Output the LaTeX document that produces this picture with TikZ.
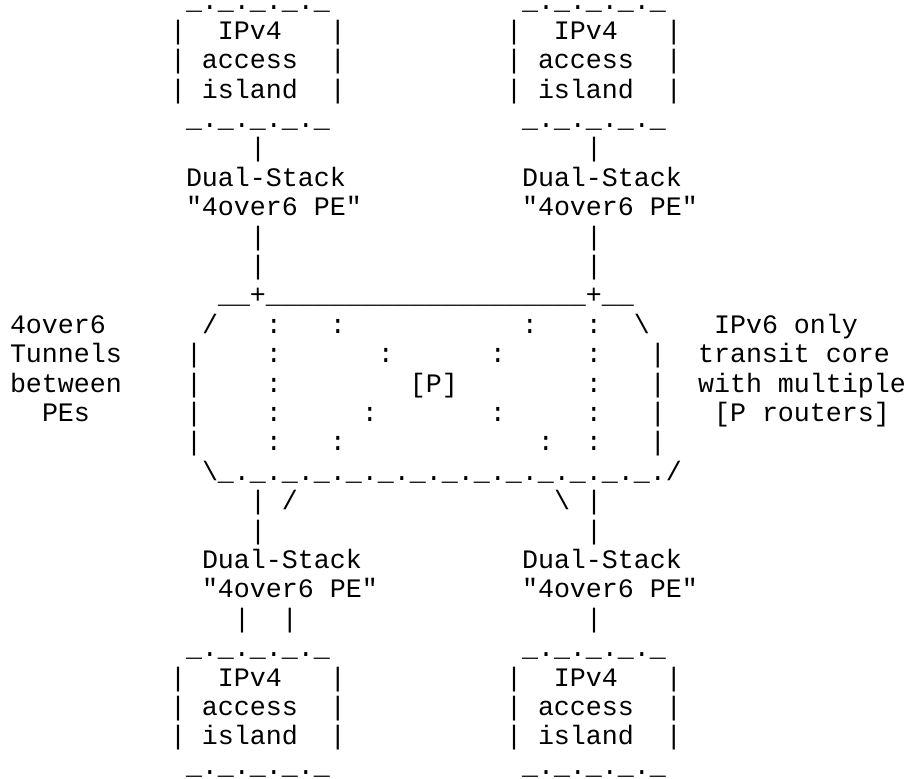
\documentclass[tikz,border=0pt]{standalone}
\usepackage{fontspec}
\setmonofont{Liberation Mono}
\frenchspacing

\begin{document}
\begin{tikzpicture}[
		x=16pt, y=-29.4pt,
		txt/.style={anchor=base west, inner sep=0pt, outer sep=0pt, font=\ttfamily\fontsize{26.66pt}{29.4pt}\selectfont}
	]
	\useasboundingbox (-10pt,9.9pt) rectangle (899pt,-768.1pt);

	% Upper IPv4 access islands
	\node[txt] (tlTop) at (11,0) {\_.\_.\_.\_.\_};
	\node[txt] (tlIPv4) at (10,1) {|~~IPv4~~~|};
	\node[txt] (tlAccess) at (10,2) {|~access~~|};
	\node[txt] (tlIsland) at (10,3) {|~island~~|};
	\node[txt] (tlBot) at (11,4) {\_.\_.\_.\_.\_};

	\node[txt] (trTop) at (32,0) {\_.\_.\_.\_.\_};
	\node[txt] (trIPv4) at (31,1) {|~~IPv4~~~|};
	\node[txt] (trAccess) at (31,2) {|~access~~|};
	\node[txt] (trIsland) at (31,3) {|~island~~|};
	\node[txt] (trBot) at (32,4) {\_.\_.\_.\_.\_};

	% Upper PEs
	\node[txt] (tlLinkA) at (15,5) {|};
	\node[txt] (trLinkA) at (36,5) {|};
	\node[txt] (tlPE) at (11,6) {Dual-Stack};
	\node[txt] (trPE) at (32,6) {Dual-Stack};
	\node[txt] (tlPEname) at (11,7) {"4over6 PE"};
	\node[txt] (trPEname) at (32,7) {"4over6 PE"};
	\node[txt] (tlLinkB) at (15,8) {|};
	\node[txt] (trLinkB) at (36,8) {|};
	\node[txt] (tlLinkC) at (15,9) {|};
	\node[txt] (trLinkC) at (36,9) {|};

	% IPv6 only core
	\node[txt] (coreTop) at (13,10) {\_\_+\_\_\_\_\_\_\_\_\_\_\_\_\_\_\_\_\_\_\_\_+\_\_};
	\node[txt] (coreA) at (12,11) {/~~~:~~~:~~~~~~~~~~~:~~~:~~\textbackslash};
	\node[txt] (coreB) at (11,12) {|~~~~:~~~~~~:~~~~~~:~~~~~:~~~|};
	\node[txt] (coreC) at (11,13) {|~~~~:~~~~~~~~[P]~~~~~~~~:~~~|};
	\node[txt] (coreD) at (11,14) {|~~~~:~~~~~:~~~~~~~:~~~~~:~~~|};
	\node[txt] (coreE) at (11,15) {|~~~~:~~~:~~~~~~~~~~~~:~~:~~~|};
	\node[txt] (coreBot) at (12,16) {\textbackslash\_.\_.\_.\_.\_.\_.\_.\_.\_.\_.\_.\_.\_.\_./};

	% Annotations
	\node[txt] (tunA) at (0,11) {4over6};
	\node[txt] (tunB) at (0,12) {Tunnels};
	\node[txt] (tunC) at (0,13) {between};
	\node[txt] (tunD) at (2,14) {PEs};
	\node[txt] (coreNoteA) at (44,11) {IPv6 only};
	\node[txt] (coreNoteB) at (43,12) {transit core};
	\node[txt] (coreNoteC) at (43,13) {with multiple};
	\node[txt] (coreNoteD) at (44,14) {[P routers]};

	% Lower PEs
	\node[txt] (blLinkA) at (15,17) {|~/};
	\node[txt] (brLinkA) at (34,17) {\textbackslash~|};
	\node[txt] (blLinkB) at (15,18) {|};
	\node[txt] (brLinkB) at (36,18) {|};
	\node[txt] (blPE) at (12,19) {Dual-Stack};
	\node[txt] (brPE) at (32,19) {Dual-Stack};
	\node[txt] (blPEname) at (12,20) {"4over6 PE"};
	\node[txt] (brPEname) at (32,20) {"4over6 PE"};
	\node[txt] (blLinkC) at (14,21) {|~~|};
	\node[txt] (brLinkC) at (36,21) {|};

	% Lower IPv4 access islands
	\node[txt] (blTop) at (11,22) {\_.\_.\_.\_.\_};
	\node[txt] (blIPv4) at (10,23) {|~~IPv4~~~|};
	\node[txt] (blAccess) at (10,24) {|~access~~|};
	\node[txt] (blIsland) at (10,25) {|~island~~|};
	\node[txt] (blBot) at (11,26) {\_.\_.\_.\_.\_};

	\node[txt] (brTop) at (32,22) {\_.\_.\_.\_.\_};
	\node[txt] (brIPv4) at (31,23) {|~~IPv4~~~|};
	\node[txt] (brAccess) at (31,24) {|~access~~|};
	\node[txt] (brIsland) at (31,25) {|~island~~|};
	\node[txt] (brBot) at (32,26) {\_.\_.\_.\_.\_};

\end{tikzpicture}
\end{document}
